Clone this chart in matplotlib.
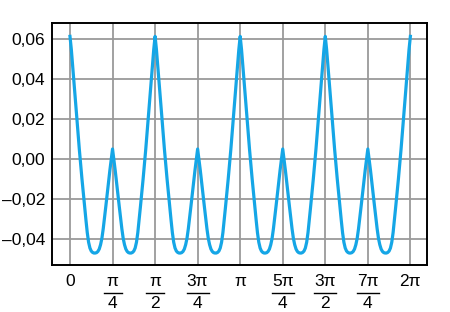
import numpy as np
import matplotlib
matplotlib.use("Agg")
import matplotlib.pyplot as plt

plt.rcParams["font.family"] = ["Liberation Sans", "DejaVu Sans"]

y_values = [
    0.0615, 0.0550, 0.0468, 0.0383, 0.0300, 0.0218, 0.0133, 0.0050, -0.0028, -0.0100, -0.0170, -0.0238, -0.0306, -0.0370, -0.0418, -0.0447,
    -0.0462, -0.0469, -0.0472, -0.0472, -0.0470, -0.0464, -0.0452, -0.0430, -0.0398, -0.0350, -0.0294, -0.0235, -0.0175, -0.0115, -0.0057, -0.0002,
    0.0050, -0.0002, -0.0057, -0.0115, -0.0175, -0.0235, -0.0294, -0.0350, -0.0398, -0.0430, -0.0452, -0.0464, -0.0470, -0.0472, -0.0472, -0.0469,
    -0.0462, -0.0447, -0.0418, -0.0370, -0.0306, -0.0238, -0.0170, -0.0100, -0.0028, 0.0050, 0.0133, 0.0218, 0.0300, 0.0383, 0.0468, 0.0550,
    0.0615, 0.0550, 0.0468, 0.0383, 0.0300, 0.0218, 0.0133, 0.0050, -0.0028, -0.0100, -0.0170, -0.0238, -0.0306, -0.0370, -0.0418, -0.0447,
    -0.0462, -0.0469, -0.0472, -0.0472, -0.0470, -0.0464, -0.0452, -0.0430, -0.0398, -0.0350, -0.0294, -0.0235, -0.0175, -0.0115, -0.0057, -0.0002,
    0.0050, -0.0002, -0.0057, -0.0115, -0.0175, -0.0235, -0.0294, -0.0350, -0.0398, -0.0430, -0.0452, -0.0464, -0.0470, -0.0472, -0.0472, -0.0469,
    -0.0462, -0.0447, -0.0418, -0.0370, -0.0306, -0.0238, -0.0170, -0.0100, -0.0028, 0.0050, 0.0133, 0.0218, 0.0300, 0.0383, 0.0468, 0.0550,
    0.0615, 0.0550, 0.0468, 0.0383, 0.0300, 0.0218, 0.0133, 0.0050, -0.0028, -0.0100, -0.0170, -0.0238, -0.0306, -0.0370, -0.0418, -0.0447,
    -0.0462, -0.0469, -0.0472, -0.0472, -0.0470, -0.0464, -0.0452, -0.0430, -0.0398, -0.0350, -0.0294, -0.0235, -0.0175, -0.0115, -0.0057, -0.0002,
    0.0050, -0.0002, -0.0057, -0.0115, -0.0175, -0.0235, -0.0294, -0.0350, -0.0398, -0.0430, -0.0452, -0.0464, -0.0470, -0.0472, -0.0472, -0.0469,
    -0.0462, -0.0447, -0.0418, -0.0370, -0.0306, -0.0238, -0.0170, -0.0100, -0.0028, 0.0050, 0.0133, 0.0218, 0.0300, 0.0383, 0.0468, 0.0550,
    0.0615, 0.0550, 0.0468, 0.0383, 0.0300, 0.0218, 0.0133, 0.0050, -0.0028, -0.0100, -0.0170, -0.0238, -0.0306, -0.0370, -0.0418, -0.0447,
    -0.0462, -0.0469, -0.0472, -0.0472, -0.0470, -0.0464, -0.0452, -0.0430, -0.0398, -0.0350, -0.0294, -0.0235, -0.0175, -0.0115, -0.0057, -0.0002,
    0.0050, -0.0002, -0.0057, -0.0115, -0.0175, -0.0235, -0.0294, -0.0350, -0.0398, -0.0430, -0.0452, -0.0464, -0.0470, -0.0472, -0.0472, -0.0469,
    -0.0462, -0.0447, -0.0418, -0.0370, -0.0306, -0.0238, -0.0170, -0.0100, -0.0028, 0.0050, 0.0133, 0.0218, 0.0300, 0.0383, 0.0468, 0.0550,
    0.0615,
]
x_values = np.linspace(0, 2 * np.pi, len(y_values))

x_ticks = np.arange(9) * np.pi / 4
x_num = ["0", "π", "π", "3π", "π", "5π", "3π", "7π", "2π"]
x_den = ["", "4", "2", "4", "", "4", "2", "4", ""]

y_ticks = [0.06, 0.04, 0.02, 0.00, -0.02, -0.04]
y_labels = ["0,06", "0,04", "0,02", "0,00", "–0,02", "–0,04"]

fig = plt.figure(figsize=(4.5, 3.12), dpi=100)
ax = fig.add_axes([52 / 450, 47 / 312, 375 / 450, 242 / 312])

ax.plot(x_values, y_values, color="#15a6e6", lw=2.3, solid_joinstyle="round", zorder=3)

ax.set_xlim(-0.332, 6.59)
ax.set_ylim(-0.0532, 0.0682)

ax.set_yticks(y_ticks)
ax.set_yticklabels(y_labels, fontsize=12.5)
ax.set_xticks(x_ticks)
ax.set_xticklabels([])
ax.tick_params(length=0, pad=5)
ax.grid(True, color="#9a9a9a", lw=1.3)
for s in ax.spines.values():
    s.set_linewidth(1.4)

# tick labels as stacked fractions
tr = ax.get_xaxis_transform()
for xv, num, den in zip(x_ticks, x_num, x_den):
    ax.annotate(num, xy=(xv, 0), xycoords=tr, xytext=(0, -16 * 0.72),
                textcoords="offset points", ha="center", va="center", fontsize=12.5)
    if den:
        ax.annotate(den, xy=(xv, 0), xycoords=tr, xytext=(0, -38.5 * 0.72),
                    textcoords="offset points", ha="center", va="center", fontsize=12.5)
        half = (11 if len(num) > 1 else 9) / 42.55 * np.pi / 4
        ax.plot([xv - half, xv + half], [-27.7 / 242] * 2, transform=tr,
                color="black", lw=1.0, clip_on=False)

fig.savefig("out.png", dpi=100)
